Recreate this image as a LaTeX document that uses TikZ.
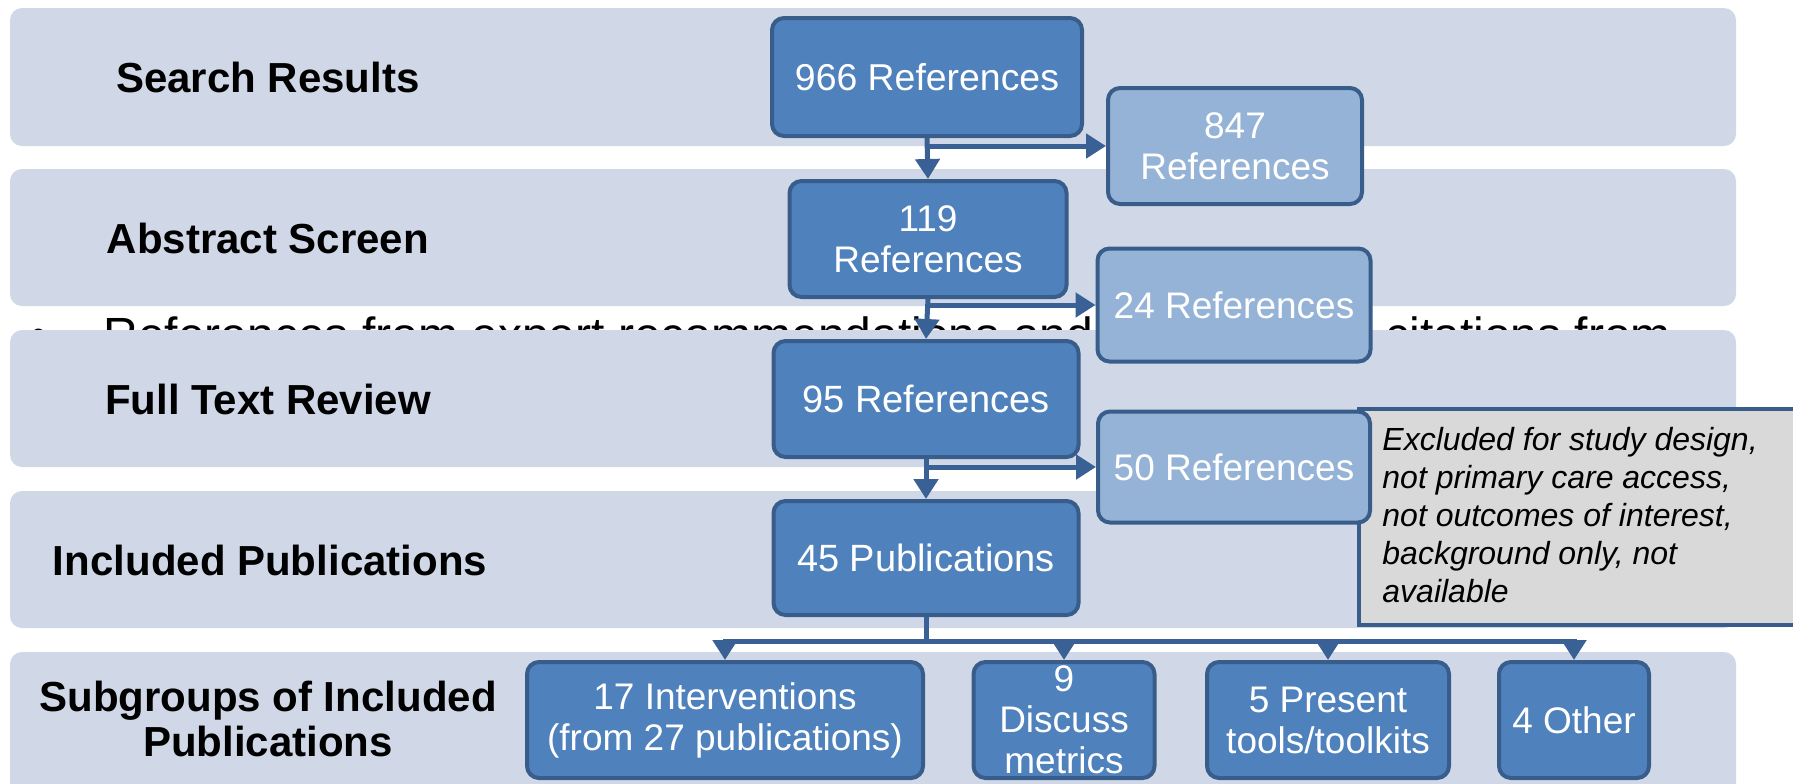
\documentclass[tikz,border=0pt]{standalone}
\usepackage{fontspec}
\setmainfont{Liberation Sans}
\usetikzlibrary{arrows.meta}
\definecolor{bandfill}{RGB}{208,216,232}
\definecolor{boxfill}{RGB}{79,129,189}
\definecolor{lightfill}{RGB}{149,179,215}
\definecolor{boxline}{RGB}{56,93,138}
\definecolor{notefill}{RGB}{217,217,217}
\definecolor{arrowcol}{RGB}{58,97,149}
\begin{document}
\begin{tikzpicture}[x=0.5pt,y=-0.5pt,
  band/.style={fill=bandfill, rounded corners=6pt},
  bandlabel/.style={font=\fontsize{21}{22.5}\selectfont\bfseries, align=center, text=black, inner sep=0pt},
  flowbox/.style={draw=boxline, line width=2pt, fill=boxfill, rounded corners=6pt, text=white, align=center, inner sep=0pt, font=\fontsize{18.5}{20.5}\selectfont},
  exbox/.style={flowbox, fill=lightfill},
  arr/.style={draw=arrowcol, line width=2.5pt, -{Triangle[width=12pt,length=10pt]}},
  notebox/.style={draw=boxline, line width=2pt, fill=notefill},
  notetext/.style={font=\fontsize{16}{19}\selectfont\itshape, align=left, anchor=north west, inner sep=0pt, text=black},
  bgtext/.style={font=\fontsize{24}{28}\selectfont, anchor=base west, inner sep=0pt, text=black}
]
\path[use as bounding box] (0,0) rectangle (1793,783);
\clip (0,0) rectangle (1793,783);

% background text partly hidden by the bands
\node[bgtext] (bul) at (30,351) {•};
\node[bgtext] (bgl) at (103,351) {References from expert recommendations and};
\node[bgtext] (bgr) at (1385,351) {citations from};

% bands
\path[band] (10,8) rectangle (1736,146);
\path[band] (10,169) rectangle (1736,306);
\path[band] (10,330) rectangle (1736,467);
\path[band] (10,491) rectangle (1736,628);
\path[band] (10,652) rectangle (1736,800);

% band labels
\node[bandlabel] (l1) at (268,77) {Search Results};
\node[bandlabel] (l2) at (268,238) {Abstract Screen};
\node[bandlabel] (l3) at (268,399) {Full Text Review};
\node[bandlabel] (l4) at (270,560) {Included Publications};
\node[bandlabel] (l5) at (268,719) {Subgroups of Included\\Publications};

% main flow
\node[flowbox, minimum width=155pt, minimum height=59pt, font=\fontsize{18.7}{20.5}\selectfont] (n966) at (927,77) {966 References};
\node[exbox, minimum width=127pt, minimum height=58pt] (n847) at (1235,146) {847\\References};
\node[flowbox, minimum width=138.5pt, minimum height=58pt] (n119) at (928,239) {119\\References};
\node[exbox, minimum width=136.5pt, minimum height=56.5pt] (n24) at (1234,305) {24 References};
\node[flowbox, minimum width=152.5pt, minimum height=58pt, font=\fontsize{19}{21}\selectfont] (n95) at (926,399) {95 References};

% note
\draw[notebox] (1359,409) rectangle (1830,625);
\node[notetext] (note) at (1382,427) {Excluded for study design,\\not primary care access,\\not outcomes of interest,\\background only, not\\available};

\node[exbox, minimum width=136pt, minimum height=55.5pt] (n50) at (1234,467) {50 References};
\node[flowbox, minimum width=152.5pt, minimum height=57pt, font=\fontsize{19}{21}\selectfont] (n45) at (926,558) {45 Publications};

% subgroups
\node[flowbox, minimum width=198pt, minimum height=58pt] (n17) at (725,720) {17 Interventions\\(from 27 publications)};
\node[flowbox, minimum width=90.5pt, minimum height=58pt] (n9) at (1064,720) {9\\Discuss\\metrics};
\node[flowbox, minimum width=121pt, minimum height=58pt] (n5) at (1328,720) {5 Present\\tools/toolkits};
\node[flowbox, minimum width=75pt, minimum height=58pt] (n4) at (1574,720) {4 Other};

% connectors
\draw[arr] (n966.south) -- (n119.north);
\draw[arr] (n966.south |- n847.west) -- (n847.west);
\draw[arr] (n119.south) -- (n95.north);
\draw[arr] (n119.south |- n24.west) -- (n24.west);
\draw[arr] (n95.south) -- (n45.north);
\draw[arr] (n95.south |- n50.west) -- (n50.west);

\coordinate (br) at (926,641);
\draw[arr] (n45.south) -- (br) -| (n17.north);
\draw[arr] (n45.south) -- (br) -| (n9.north);
\draw[arr] (n45.south) -- (br) -| (n5.north);
\draw[arr] (n45.south) -- (br) -| (n4.north);
\end{tikzpicture}
\end{document}
